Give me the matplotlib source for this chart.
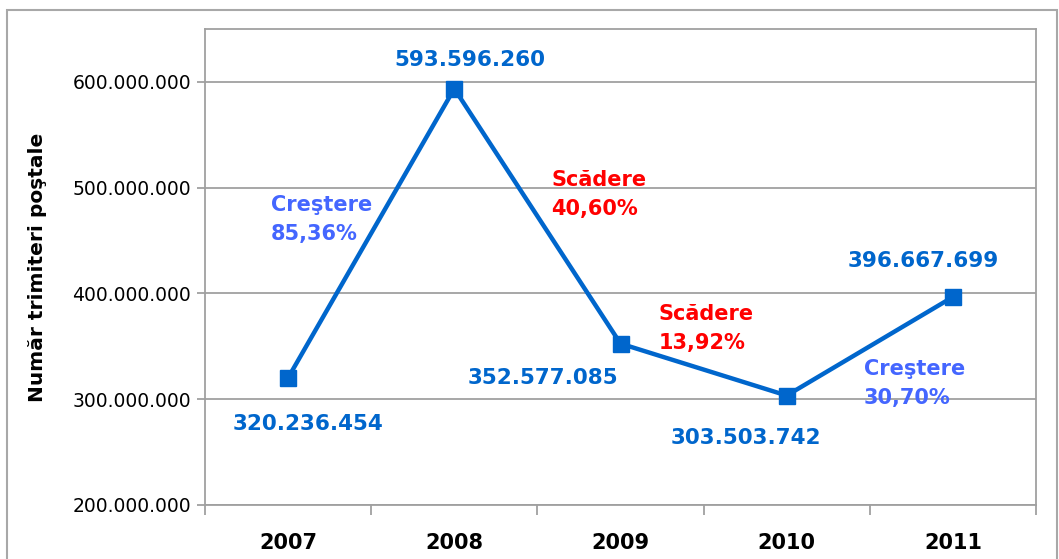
import numpy as np
import matplotlib
matplotlib.use('Agg')
import matplotlib.pyplot as plt
from matplotlib.patches import Rectangle
from matplotlib.ticker import FuncFormatter

# Date
ani = ['2007', '2008', '2009', '2010', '2011']
trimiteri = [320236454, 593596260, 352577085, 303503742, 396667699]

# offset-uri pentru etichetele valorilor (pixeli)
off_valori = [(20, -46), (16, 29), (-78, -34), (-41, -42), (-30, 36)]
# offset-uri pentru etichetele de variatie, fata de mijlocul segmentului
off_var = [(-100, 14), (14, 22), (-45, 41), (-6, -37)]

albastru = '#0066CC'
albastru_deschis = '#4466FF'
rosu = '#FF0000'
gri = '#A0A0A0'


def fmt_puncte(v):
    return f'{int(round(v)):,}'.replace(',', '.')


fig = plt.figure(figsize=(10.59, 5.59), dpi=100)
ax = fig.add_axes([205 / 1059, 1 - 505 / 559, (1036 - 205) / 1059, (505 - 29) / 559])

# chenarul exterior
fig.patches.append(Rectangle((7 / 1059, -0.1), (1057 - 7) / 1059, 1.1 - 10 / 559,
                             transform=fig.transFigure, fill=False,
                             edgecolor='#A8A8A8', linewidth=1.5))

x = np.arange(len(ani))
ax.plot(x, trimiteri, color=albastru, linewidth=3.2, marker='s', markersize=12,
        zorder=3)

ax.set_xlim(-0.5, len(ani) - 0.5)
ax.set_ylim(200000000, 650000000)
ax.set_yticks([200000000, 300000000, 400000000, 500000000, 600000000])
ax.yaxis.set_major_formatter(FuncFormatter(lambda v, p: fmt_puncte(v)))
ax.grid(axis='y', color=gri, linewidth=1.3)
ax.set_axisbelow(True)

ax.set_xticks(x)
ax.set_xticklabels(ani, fontsize=15, fontweight='bold')
ax.set_xticks(np.arange(len(ani) + 1) - 0.5, minor=True)
ax.tick_params(axis='x', which='major', length=0, pad=20)
ax.tick_params(axis='x', which='minor', length=7, width=1.3, color=gri)
ax.tick_params(axis='y', length=6, width=1.3, color=gri, labelsize=13.5, pad=4)

for s in ax.spines.values():
    s.set_color(gri)
    s.set_linewidth(1.3)

ax.set_ylabel('Număr trimiteri poştale', fontsize=14.5, fontweight='bold', labelpad=18)

# etichete valori
for i, v in enumerate(trimiteri):
    ax.annotate(fmt_puncte(v), xy=(i, v), xytext=off_valori[i],
                textcoords='offset pixels', ha='center', va='center',
                fontsize=15.5, fontweight='bold', color=albastru)

# etichete variatii procentuale
for i in range(len(trimiteri) - 1):
    r = trimiteri[i + 1] / trimiteri[i] - 1
    proc = f'{abs(r) * 100:.2f}%'.replace('.', ',')
    if r > 0:
        txt, col = 'Creştere\n' + proc, albastru_deschis
    else:
        txt, col = 'Scădere\n' + proc, rosu
    xm = i + 0.5
    ym = (trimiteri[i] + trimiteri[i + 1]) / 2
    ax.annotate(txt, xy=(xm, ym), xytext=off_var[i], textcoords='offset pixels',
                ha='left', va='center', fontsize=15, fontweight='bold',
                color=col, linespacing=1.55)

fig.savefig('out.png', dpi=100)
